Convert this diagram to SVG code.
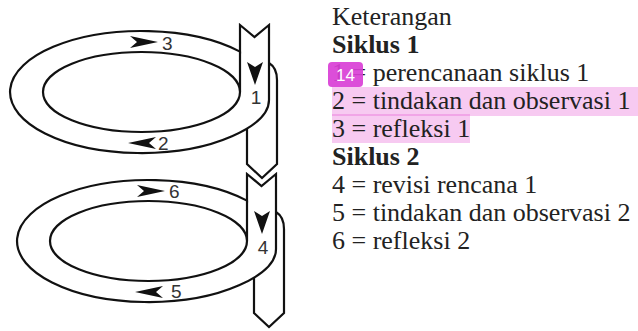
<svg xmlns="http://www.w3.org/2000/svg" width="638" height="331" viewBox="0 0 638 331">
<style>
.ln{fill:#fff;stroke:#111;stroke-width:2.2;stroke-linejoin:miter}
.open{fill:none;stroke:#111;stroke-width:2.2}
.ah{fill:#111}
.num{font-family:"Liberation Sans",Arial,sans-serif;font-size:19px;fill:#333}
.t{font-family:"Liberation Serif","Times New Roman",serif;font-size:26px;fill:#222}
.b{font-weight:bold}
.hl{fill:#e650d2;fill-opacity:0.3}
</style>
<defs>
<path id="hArrow" d="M0,0 L-28,-6 L-21,0 L-28,6 Z"/>
<path id="vArrow" d="M0,0 L-8,-23 L0,-18 L8,-23 Z"/>
</defs>
<rect width="638" height="331" fill="#fff"/>

<g id="loop1">
<path class="ln" d="M262,60 L269,63 C274,66 277,71 277,80 L277,164 L262,178 L247,164 L247,110 Z"/>
<path class="ln" d="M240,51.6 A131.5 61 0 1 0 232,136.3 C250,128.4 269,116 269,100 L269,25 L254.5,37 L240,25 Z"/>
<line class="open" x1="240" y1="51.6" x2="240" y2="92"/>
<ellipse class="ln" cx="141.5" cy="92" rx="98.5" ry="40"/>
<use href="#vArrow" class="ah" transform="translate(255,85)"/>
<use href="#hArrow" class="ah" transform="translate(158,42)"/>
<use href="#hArrow" class="ah" transform="translate(128,143) rotate(180)"/>
<text class="num" x="256" y="104" text-anchor="middle">1</text>
<text class="num" x="158" y="150">2</text>
<text class="num" x="162" y="50">3</text>
</g>

<g id="loop2">
<path class="ln" d="M269,209 L276,212 C281,215 284,220 284,229 L284,313 L269,327 L254,313 L254,259 Z"/>
<path class="ln" d="M247,200.6 A131.5 61 0 1 0 239,285.3 C257,277.4 276,265 276,249 L276,174 L261.5,186 L247,174 Z"/>
<line class="open" x1="247" y1="200.6" x2="247" y2="241"/>
<ellipse class="ln" cx="148.5" cy="241" rx="98.5" ry="40"/>
<use href="#vArrow" class="ah" transform="translate(262,234)"/>
<use href="#hArrow" class="ah" transform="translate(165,191)"/>
<use href="#hArrow" class="ah" transform="translate(135,292) rotate(180)"/>
<text class="num" x="263" y="254" text-anchor="middle">4</text>
<text class="num" x="171" y="298">5</text>
<text class="num" x="169" y="198">6</text>
</g>

<g id="legend">
<rect class="hl" x="332" y="87" width="306" height="29"/>
<rect class="hl" x="332" y="114" width="138" height="29"/>
<text class="t" x="332" y="25">Keterangan</text>
<text class="t b" x="332" y="53">Siklus 1</text>
<text class="t" x="332" y="81">1 = perencanaan siklus 1</text>
<text class="t" x="332" y="109">2 = tindakan dan observasi 1</text>
<text class="t" x="332" y="137">3 = refleksi 1</text>
<text class="t b" x="332" y="165">Siklus 2</text>
<text class="t" x="332" y="193">4 = revisi rencana 1</text>
<text class="t" x="332" y="221">5 = tindakan dan observasi 2</text>
<text class="t" x="332" y="249">6 = refleksi 2</text>
</g>

<g id="badge">
<rect x="328" y="62" width="35" height="25" rx="4" fill="#d93fd6" fill-opacity="0.92"/>
<text x="345.5" y="80.5" text-anchor="middle" font-family="Liberation Sans,Arial,sans-serif" font-size="17" fill="#fff">14</text>
</g>
</svg>
